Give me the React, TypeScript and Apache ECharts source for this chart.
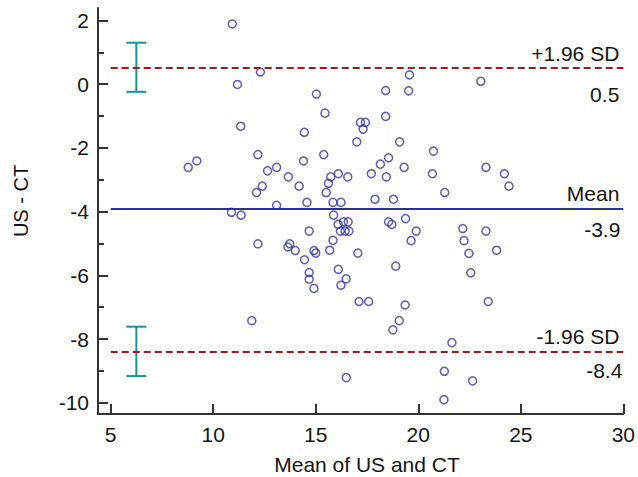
import React, { useEffect, useRef } from "react";
import * as echarts from "echarts";

// Mean of US and CT (x) and US - CT difference (y)
const meanUsCt = [
  10.93, 12.3, 11.18, 11.34, 8.78, 9.2, 12.18, 12.65, 13.09, 12.39,
  12.11, 13.09, 13.66, 14.19, 14.4, 14.44, 14.57, 15.03, 10.89, 11.36,
  14.68, 12.18, 11.88, 13.64, 13.73, 14.0, 14.45, 14.68, 14.68, 14.91,
  14.91, 15.0, 15.45, 17.18, 17.42, 17.31, 18.41, 18.41, 17.0, 15.39,
  15.73, 16.1, 15.62, 16.56, 15.51, 15.84, 16.23, 17.71, 18.15, 18.55,
  18.44, 17.89, 18.79, 19.53, 19.57, 23.05, 19.09, 20.74, 19.31, 20.69,
  23.3, 24.2, 24.42, 21.29, 15.87, 16.09, 16.35, 16.58, 16.2, 16.43,
  16.62, 18.55, 18.71, 19.38, 19.9, 22.17, 23.3, 15.84, 15.68, 17.05,
  18.9, 16.1, 16.48, 16.23, 17.11, 17.58, 18.76, 16.49, 19.65, 22.23,
  22.47, 22.56, 23.82, 19.36, 19.07, 23.41, 21.64, 21.27, 22.65, 21.25,
];
const diffUsCt = [
  1.89, 0.38, -0.01, -1.32, -2.61, -2.41, -2.21, -2.72, -2.61, -3.2,
  -3.4, -3.8, -2.91, -3.2, -2.41, -1.51, -3.71, -0.31, -4.02, -4.11,
  -4.61, -5.01, -7.42, -5.11, -5.01, -5.22, -5.51, -5.91, -6.12, -6.41,
  -5.22, -5.3, -0.91, -1.2, -1.2, -1.41, -0.2, -1.01, -1.81, -2.21,
  -2.91, -2.81, -3.11, -2.91, -3.4, -3.71, -3.71, -2.81, -2.51, -2.31,
  -2.91, -3.61, -3.61, -0.21, 0.29, 0.09, -1.81, -2.1, -2.61, -2.81,
  -2.61, -2.81, -3.2, -3.4, -4.11, -4.4, -4.32, -4.32, -4.61, -4.61,
  -4.61, -4.32, -4.4, -4.22, -4.61, -4.53, -4.61, -4.9, -5.21, -5.3,
  -5.71, -5.81, -6.11, -6.31, -6.82, -6.82, -7.71, -9.21, -4.91, -4.91,
  -5.31, -5.92, -5.21, -6.93, -7.42, -6.82, -8.11, -9.01, -9.31, -9.9,
];

// Limits of agreement
const meanDiff = -3.92;
const upperLoA = 0.52;
const lowerLoA = -8.39;
const meanLabel = ["Mean", "-3.9"];
const upperLabel = ["+1.96 SD", "0.5"];
const lowerLabel = ["-1.96 SD", "-8.4"];

// 95% CI error bars of the limits
const ciX = [6.25, 6.25];
const ciLow = [-0.24, -9.16];
const ciHigh = [1.3, -7.61];

// Axis ticks
const xTicks = [5, 10, 15, 20, 25, 30];
const yTicks = [-10, -8, -6, -4, -2, 0, 2];
const yMinorTicks = [-9, -7, -5, -3, -1, 1];
const xRange = [4.38, 30];
const yRange = [-10.35, 2.39];

const FONT = "'Liberation Sans', Arial, sans-serif";
const TXT = "#141414";
const FS = 21;

export default function App() {
  const ref = useRef<HTMLDivElement>(null);
  useEffect(() => {
    if (!ref.current) return;
    const chart = echarts.init(ref.current, undefined, { renderer: "svg" });
    const lineFrom = (y: number) => ({ coord: [5, y] });
    const lineTo = (y: number) => ({ coord: [30, y] });
    const dashed = { color: "#9c1c1c", width: 2, type: [7, 4] as any };
    const solid = { color: "#2a2f9c", width: 2, type: "solid" as any };
    const hidden = { color: "rgba(0,0,0,0)", width: 0 };
    const lbl = (text: string, pos: string, dist: number[]) => ({
      show: true,
      formatter: text,
      position: pos,
      distance: dist,
      color: TXT,
      fontSize: FS,
      fontFamily: FONT,
    });
    const option: any = {
      animation: false,
      backgroundColor: "#ffffff",
      grid: { left: 98, right: 13, top: 8, bottom: 63, containLabel: false },
      xAxis: {
        type: "value",
        min: xRange[0],
        max: xRange[1],
        axisLine: { show: true, onZero: false, lineStyle: { color: "#333", width: 2 } },
        axisTick: { show: true, inside: true, length: 10, customValues: xTicks, lineStyle: { color: "#333", width: 2 } },
        axisLabel: { customValues: xTicks, fontSize: FS, fontFamily: FONT, color: TXT, margin: 10 },
        splitLine: { show: false },
      },
      yAxis: [
        {
          type: "value",
          min: yRange[0],
          max: yRange[1],
          axisLine: { show: true, onZero: false, lineStyle: { color: "#333", width: 2 } },
          axisTick: { show: true, inside: true, length: 10, customValues: yTicks, lineStyle: { color: "#333", width: 2 } },
          axisLabel: { customValues: yTicks, fontSize: FS, fontFamily: FONT, color: TXT, margin: 9 },
          splitLine: { show: false },
        },
        {
          type: "value",
          position: "left",
          min: yRange[0],
          max: yRange[1],
          axisLine: { show: false },
          axisTick: { show: true, inside: true, length: 6, customValues: yMinorTicks, lineStyle: { color: "#333", width: 2 } },
          axisLabel: { show: false },
          splitLine: { show: false },
        },
      ],
      graphic: [
        {
          type: "text",
          x: 367,
          y: 464,
          style: { text: "Mean of US and CT", fontSize: 21, fontFamily: FONT, fill: TXT, align: "center", verticalAlign: "middle" },
        },
        {
          type: "text",
          x: 21,
          y: 201,
          rotation: Math.PI / 2,
          style: { text: "US - CT", fontSize: 20, fontFamily: FONT, fill: TXT, align: "center", verticalAlign: "middle" },
        },
      ],
      series: [
        {
          type: "scatter",
          data: meanUsCt.map((x, i) => [x, diffUsCt[i]]),
          symbol: "circle",
          symbolSize: 8,
          itemStyle: { color: "rgba(0,0,0,0)", borderColor: "#3434a6", borderWidth: 1.5 },
          z: 3,
          markLine: {
            silent: true,
            symbol: ["none", "none"],
            data: [
              [{ ...lineFrom(upperLoA), lineStyle: dashed, label: lbl(upperLabel[0], "insideEndTop", [4, 4]) }, lineTo(upperLoA)],
              [{ ...lineFrom(upperLoA), lineStyle: hidden, label: lbl(upperLabel[1], "insideEndBottom", [4, 16]) }, lineTo(upperLoA)],
              [{ ...lineFrom(meanDiff), lineStyle: solid, label: lbl(meanLabel[0], "insideEndTop", [4, 5]) }, lineTo(meanDiff)],
              [{ ...lineFrom(meanDiff), lineStyle: hidden, label: lbl(meanLabel[1], "insideEndBottom", [3, 10]) }, lineTo(meanDiff)],
              [{ ...lineFrom(lowerLoA), lineStyle: dashed, label: lbl(lowerLabel[0], "insideEndTop", [4, 5]) }, lineTo(lowerLoA)],
              [{ ...lineFrom(lowerLoA), lineStyle: hidden, label: lbl(lowerLabel[1], "insideEndBottom", [1, 8]) }, lineTo(lowerLoA)],
            ],
          },
        },
        {
          type: "custom",
          data: ciX.map((x, i) => [x, ciLow[i], ciHigh[i]]),
          renderItem: (params: any, api: any) => {
            const lo = api.coord([api.value(0), api.value(1)]);
            const hi = api.coord([api.value(0), api.value(2)]);
            const w = 10;
            const style = { stroke: "#1a9590", lineWidth: 2 };
            return {
              type: "group",
              children: [
                { type: "line", shape: { x1: lo[0], y1: lo[1], x2: hi[0], y2: hi[1] }, style },
                { type: "line", shape: { x1: lo[0] - w, y1: lo[1], x2: lo[0] + w, y2: lo[1] }, style },
                { type: "line", shape: { x1: hi[0] - w, y1: hi[1], x2: hi[0] + w, y2: hi[1] }, style },
              ],
            };
          },
          z: 4,
        },
      ],
    };
    chart.setOption(option);
    return () => chart.dispose();
  }, []);
  return (
    <div
      ref={ref}
      style={{ position: "fixed", left: 0, top: 0, width: 638, height: 477, background: "#fff" }}
    />
  );
}
